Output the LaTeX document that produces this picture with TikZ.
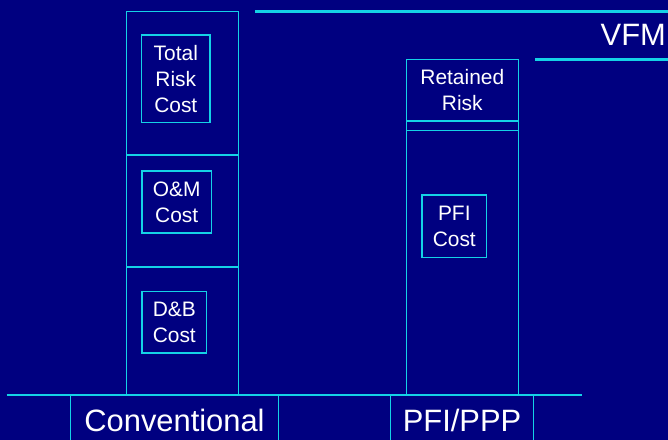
\documentclass[tikz,border=0pt]{standalone}
\usepackage{fontspec}
\setmainfont{Liberation Sans}
\definecolor{navy}{RGB}{0,0,128}
\definecolor{aqua}{RGB}{20,210,230}
\tikzset{
	band/.style={draw=aqua,line width=1.5bp,minimum width=112bp,inner sep=0pt,text=white,align=center,font=\fontsize{21}{26}\selectfont},
	costbox/.style={draw=aqua,line width=1.5bp,inner sep=0pt,text=white,align=center,font=\fontsize{21}{26}\selectfont},
	rule/.style={aqua,line width=2.5bp},
	big/.style={text=white,inner sep=0pt,font=\fontsize{31}{36}\selectfont}
}
\begin{document}
\begin{tikzpicture}[x=1bp,y=-1bp]
		\fill[navy] (0,0) rectangle (668,440);
		\useasboundingbox (0,0) rectangle (668,440);
		
		\node[band,minimum height=143.7bp] (r) at (182.3,83.2) {};
		\node[band,minimum height=112bp] (m) at (182.3,211) {};
		\node[band,minimum height=128bp] (d) at (182.3,331) {};
		
		\node[costbox,minimum width=68.3bp,minimum height=87.7bp] (tr) at (175.8,78.8) {Total\\Risk\\Cost};
		\node[costbox,minimum width=69.3bp,minimum height=62bp] (om) at (176.7,202) {O\&M\\Cost};
		\node[costbox,minimum width=64.7bp,minimum height=61.7bp] (db) at (174.3,322.2) {D\&B\\Cost};
		
		\node[band,minimum height=61.7bp] (rr) at (462.3,90.2) {Retained\\Risk};
		\node[band,minimum height=9.7bp] (gap) at (462.3,125.9) {};
		\node[band,minimum height=264.3bp] (p) at (462.3,262.9) {};
		\node[costbox,minimum width=64.7bp,minimum height=62.3bp] (pc) at (454.3,226.2) {PFI\\Cost};
		
		\coordinate (t1) at (255,11.3);
		\coordinate (t2) at (668,11.3);
		\coordinate (v1) at (535,59.3);
		\coordinate (v2) at (668,59.3);
		\draw[rule] (t1) -- (t2);
		\draw[rule] (v1) -- (v2);
		\node[big,anchor=base] (vfm) at (633.3,46) {VFM};
		
		\coordinate (b1) at (6.7,395);
		\coordinate (b2) at (582,395);
		\draw[rule] (b1) -- (b2);
		\foreach \x/\n in {70.7/a,278.3/b,390.7/c,533.3/e}{
			\coordinate (s\n) at (\x,395);
			\coordinate (f\n) at (\x,441);
			\draw[rule,line width=1.5bp] (s\n) -- (f\n);
		}
		
		\node[big,anchor=base] (conv) at (174.5,431.7) {Conventional};
		\node[big,anchor=base] (pfi) at (462,431.7) {PFI/PPP};
	\end{tikzpicture}
\end{document}
